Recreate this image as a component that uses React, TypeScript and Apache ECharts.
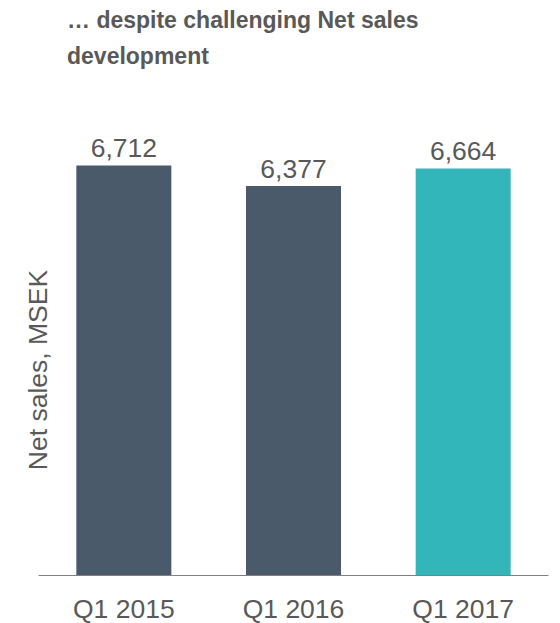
import React, { useEffect, useRef } from "react";
import * as echarts from "echarts";

const categories = ["Q1 2015", "Q1 2016", "Q1 2017"];
const netSales = [6712, 6377, 6664];
const barColors = ["#4a5a6a", "#4a5a6a", "#33b6b9"];
const titleText = "… despite challenging Net sales\ndevelopment";
const yAxisName = "Net sales, MSEK";

const FONT = "Liberation Sans, Arial, sans-serif";

export default function App() {
  const ref = useRef<HTMLDivElement>(null);
  useEffect(() => {
    if (!ref.current) return;
    const chart = echarts.init(ref.current, undefined, { renderer: "svg" });
    chart.setOption({
      animation: false,
      backgroundColor: "#ffffff",
      title: {
        text: titleText,
        left: 62,
        top: -3,
        textStyle: {
          fontFamily: FONT,
          fontSize: 23,
          fontWeight: "bold",
          color: "#595959",
          lineHeight: 36,
        },
      },
      grid: { left: 39, right: 12, top: 148, bottom: 48 },
      xAxis: {
        type: "category",
        data: categories,
        axisLine: { show: true, lineStyle: { color: "#808080", width: 1 } },
        axisTick: { show: false },
        axisLabel: {
          color: "#595959",
          fontSize: 26.5,
          lineHeight: 27,
          margin: 20,
          fontFamily: FONT,
        },
      },
      yAxis: {
        type: "value",
        min: 0,
        max: 7000,
        show: false,
        splitLine: { show: false },
      },
      graphic: [
        {
          type: "text",
          x: 38,
          y: 370,
          rotation: Math.PI / 2,
          style: {
            text: yAxisName,
            fill: "#595959",
            fontSize: 26.5,
            fontFamily: FONT,
            textAlign: "center",
            textVerticalAlign: "middle",
          },
        },
      ],
      series: [
        {
          type: "bar",
          barWidth: 95,
          data: netSales.map((v, i) => ({ value: v, itemStyle: { color: barColors[i] } })),
          label: {
            show: true,
            position: "top",
            distance: 4,
            color: "#595959",
            fontSize: 26.5,
            fontFamily: FONT,
            formatter: (p: any) => p.value.toLocaleString("en-US"),
          },
        },
      ],
    });
    return () => chart.dispose();
  }, []);
  return <div ref={ref} style={{ width: 560, height: 623, position: "absolute", left: 0, top: 0 }} />;
}
